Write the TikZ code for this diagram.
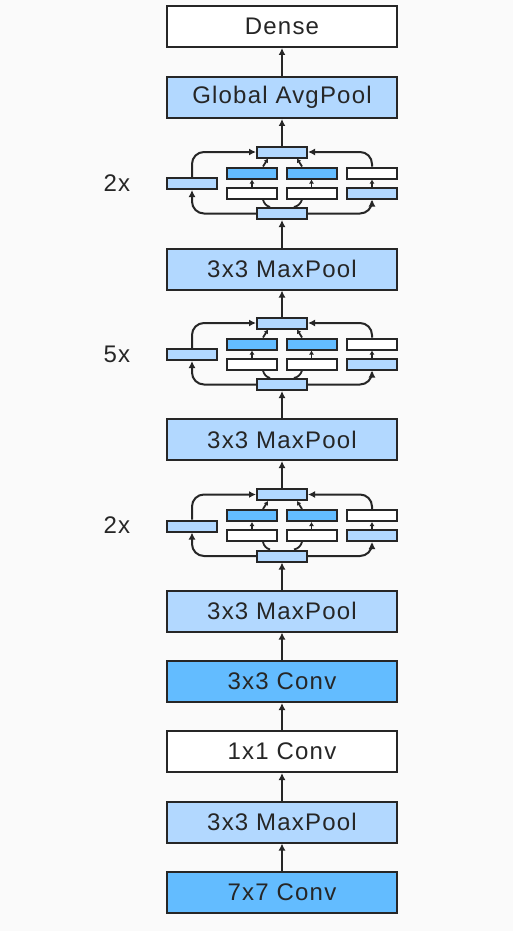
\documentclass[tikz,border=0pt]{standalone}
\usepackage{fontspec}
\setmainfont{Liberation Sans}[LetterSpace=5]
\definecolor{lightblue1}{RGB}{178, 216, 255}
\definecolor{blue1}{RGB}{99, 188, 255}
\definecolor{back1}{RGB}{250, 250, 250}
\definecolor{ink1}{RGB}{38, 38, 38}
\usetikzlibrary{arrows.meta, positioning}

\tikzset{
  layer/.style={draw=ink1, line width=1pt, minimum width=115pt, minimum height=20.5pt, inner sep=0pt, text=ink1, font=\fontsize{12}{14}\selectfont},
  blk/.style={draw=ink1, line width=1pt, minimum width=25pt, minimum height=5.5pt, inner sep=0pt},
  link/.style={draw=ink1, line width=1pt, -{Latex[length=3.5pt,width=3.5pt]}},
  tiny/.style={draw=ink1, line width=0.9pt, -{Latex[length=2pt,width=2.5pt]}},
}

\begin{document}
\begin{tikzpicture}[x=0.5pt, y=-0.5pt]
  \fill[back1] (0,0) rectangle (513,931);
  \useasboundingbox (0,0) rectangle (513,931);

  \node[layer, fill=white] (dense) at (282,26.5) {Dense};
  \node[layer, fill=lightblue1] (gap) at (282,97.5) {Global AvgPool};
  \node[layer, fill=lightblue1] (poolC) at (282,269) {3x3 MaxPool};
  \node[layer, fill=lightblue1] (poolB) at (282,439.5) {3x3 MaxPool};
  \node[layer, fill=lightblue1] (poolA) at (282,611) {3x3 MaxPool};
  \node[layer, fill=blue1] (conv3) at (282,681.5) {3x3 Conv};
  \node[layer, fill=white] (conv1) at (282,751.5) {1x1 Conv};
  \node[layer, fill=lightblue1] (pool0) at (282,822) {3x3 MaxPool};
  \node[layer, fill=blue1] (conv7) at (282,892.5) {7x7 Conv};

  % inception blocks
  \foreach \n/\c/\k in {incC/183/2x, incB/354/5x, incA/525.5/2x} {
    \node[blk, fill=lightblue1] (\n-out) at (282,\c-31) {};
    \node[blk, fill=blue1] (\n-a1) at (252,\c-10) {};
    \node[blk, fill=blue1] (\n-b1) at (311.5,\c-10) {};
    \node[blk, fill=white] (\n-c1) at (372,\c-10) {};
    \node[blk, fill=white] (\n-a2) at (252,\c+10) {};
    \node[blk, fill=white] (\n-b2) at (311.5,\c+10) {};
    \node[blk, fill=lightblue1] (\n-c2) at (372,\c+10) {};
    \node[blk, fill=lightblue1] (\n-d) at (192,\c+0.5) {};
    \node[blk, fill=lightblue1] (\n-in) at (282,\c+30.5) {};
    \node[text=ink1, font=\fontsize{12}{14}\selectfont] (\n-rep) at (117,\c) {\k};

    \draw[tiny] (\n-a2.north) -- (\n-a1.south);
    \draw[tiny] (\n-b2.north) -- (\n-b1.south);
    \draw[tiny] (\n-c2.north) -- (\n-c1.south);
    \draw[tiny] ([xshift=5.5pt]\n-a1.north) -- ([xshift=-7pt]\n-out.south);
    \draw[tiny] ([xshift=-4.75pt]\n-b1.north) -- ([xshift=7.5pt]\n-out.south);
    \draw[draw=ink1, line width=0.9pt] ([xshift=-6pt]\n-in.north) to[bend left=30] ([xshift=5.5pt]\n-a2.south);
    \draw[draw=ink1, line width=0.9pt] ([xshift=6pt]\n-in.north) to[bend right=30] ([xshift=-4.75pt]\n-b2.south);
    \draw[link, rounded corners=6pt] (\n-d.north) |- (\n-out.west);
    \draw[link, rounded corners=6pt] (\n-in.west) -| (\n-d.south);
    \draw[link, rounded corners=6pt] (\n-in.east) -| (\n-c2.south);
    \draw[link, rounded corners=6pt] (\n-c1.north) |- (\n-out.east);
  }

  \foreach \a/\b in {conv7/pool0, pool0/conv1, conv1/conv3, conv3/poolA, poolA/incA-in, incA-out/poolB, poolB/incB-in, incB-out/poolC, poolC/incC-in, incC-out/gap, gap/dense}
    \draw[link] (\a.north) -- (\b.south);
\end{tikzpicture}
\end{document}
